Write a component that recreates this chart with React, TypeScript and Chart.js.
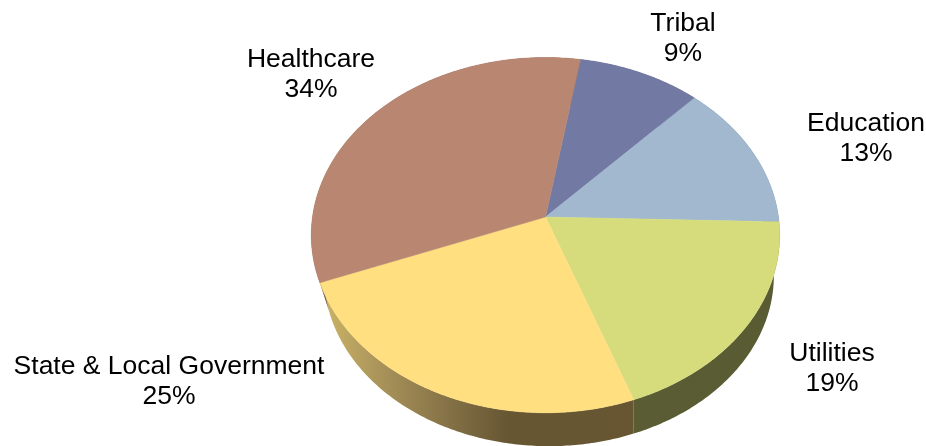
import React, { useEffect, useRef } from "react";
import { Chart, registerables } from "chart.js";

Chart.register(...registerables);

const categories = ["Tribal", "Education", "Utilities", "State & Local Government", "Healthcare"];
const shares = [9.4, 13.4, 19.0, 24.7, 33.5];
const topColors = ["#727aa4", "#a1b8cf", "#d6dc7c", "#ffdf80", "#b98771"];

const sideStops: [number, string][][] = [
  [[0, "#4a4f6e"], [1, "#4a4f6e"]],
  [[0, "#6a7a8a"], [1, "#6a7a8a"]],
  [[0, "#5a5c33"], [1, "#595b32"]],
  [[0, "#cdb566"], [0.2, "#a8925a"], [0.47, "#7a6840"], [0.6, "#665632"], [1, "#675631"]],
  [[0, "#7a5a50"], [1, "#6e5048"]],
];

const labelAnchors = [
  { x: 683, y: 24 },
  { x: 866, y: 124 },
  { x: 832, y: 354 },
  { x: 169, y: 367 },
  { x: 311, y: 60 },
];

const APEX_X = 545.5;
const APEX_Y = 217;
const A = 233;
const B = 175.8;
const K = 0.102;
const LOWER_SCALE = 0.96;
const UPPER_MID_Y = 235;
const LOWER_MID_Y = 275.5;
const LOWER_MID_X = 549;

function project(angle: number) {
  const u = Math.cos(angle);
  const v = Math.sin(angle);
  const d = 1 - K * v;
  return { x: APEX_X + (A * u) / d, y: APEX_Y + (B * v) / d };
}

function lower(p: { x: number; y: number }) {
  return {
    x: LOWER_MID_X + LOWER_SCALE * (p.x - APEX_X),
    y: LOWER_MID_Y + LOWER_SCALE * (p.y - UPPER_MID_Y),
  };
}

function arcPoints(start: number, end: number) {
  const n = Math.max(8, Math.ceil(Math.abs(end - start) * 90));
  const pts = [];
  for (let i = 0; i <= n; i++) pts.push(project(start + ((end - start) * i) / n));
  return pts;
}

const pie3d = {
  id: "pie3d",
  beforeDatasetsDraw(chart: any) {
    const ctx = chart.ctx;
    const arcs = chart.getDatasetMeta(0).data;
    const bg = chart.data.datasets[0].backgroundColor;
    ctx.save();
    arcs.forEach((arc: any, i: number) => {
      const pts = arcPoints(arc.startAngle, arc.endAngle);
      const xs = pts.map((p) => p.x);
      const grad = ctx.createLinearGradient(Math.min(...xs), 0, Math.max(...xs), 0);
      sideStops[i].forEach(([o, c]) => grad.addColorStop(o, c));
      ctx.beginPath();
      pts.forEach((p, j) => (j ? ctx.lineTo(p.x, p.y) : ctx.moveTo(p.x, p.y)));
      [...pts].reverse().forEach((p) => {
        const q = lower(p);
        ctx.lineTo(q.x, q.y);
      });
      ctx.closePath();
      ctx.fillStyle = grad;
      ctx.fill();
    });
    arcs.forEach((arc: any, i: number) => {
      const pts = arcPoints(arc.startAngle, arc.endAngle);
      ctx.beginPath();
      ctx.moveTo(APEX_X, APEX_Y);
      pts.forEach((p) => ctx.lineTo(p.x, p.y));
      ctx.closePath();
      ctx.fillStyle = bg[i];
      ctx.strokeStyle = bg[i];
      ctx.lineWidth = 0.5;
      ctx.fill();
      ctx.stroke();
    });
    ctx.restore();
    return false;
  },
  afterDraw(chart: any) {
    const ctx = chart.ctx;
    ctx.save();
    ctx.fillStyle = "#000";
    ctx.font = '26.5px "Liberation Sans"';
    ctx.textAlign = "center";
    ctx.textBaseline = "middle";
    chart.data.labels.forEach((label: string, i: number) => {
      const a = labelAnchors[i];
      ctx.fillText(label, a.x, a.y);
      ctx.fillText(`${Math.round(chart.data.datasets[0].data[i])}%`, a.x, a.y + 30);
    });
    ctx.restore();
  },
};

export default function App() {
  const ref = useRef<HTMLCanvasElement>(null);
  useEffect(() => {
    const chart = new Chart(ref.current!, {
      type: "pie",
      data: {
        labels: categories,
        datasets: [{ data: shares, backgroundColor: topColors, borderWidth: 0 }],
      },
      options: {
        animation: false,
        responsive: false,
        rotation: 9.5,
        plugins: { legend: { display: false }, tooltip: { enabled: false } },
      },
      plugins: [pie3d],
    });
    return () => chart.destroy();
  }, []);
  return (
    <div style={{ position: "fixed", left: 0, top: 0, width: 926, height: 446, background: "#fff" }}>
      <canvas ref={ref} width={926} height={446} style={{ display: "block" }} />
    </div>
  );
}
